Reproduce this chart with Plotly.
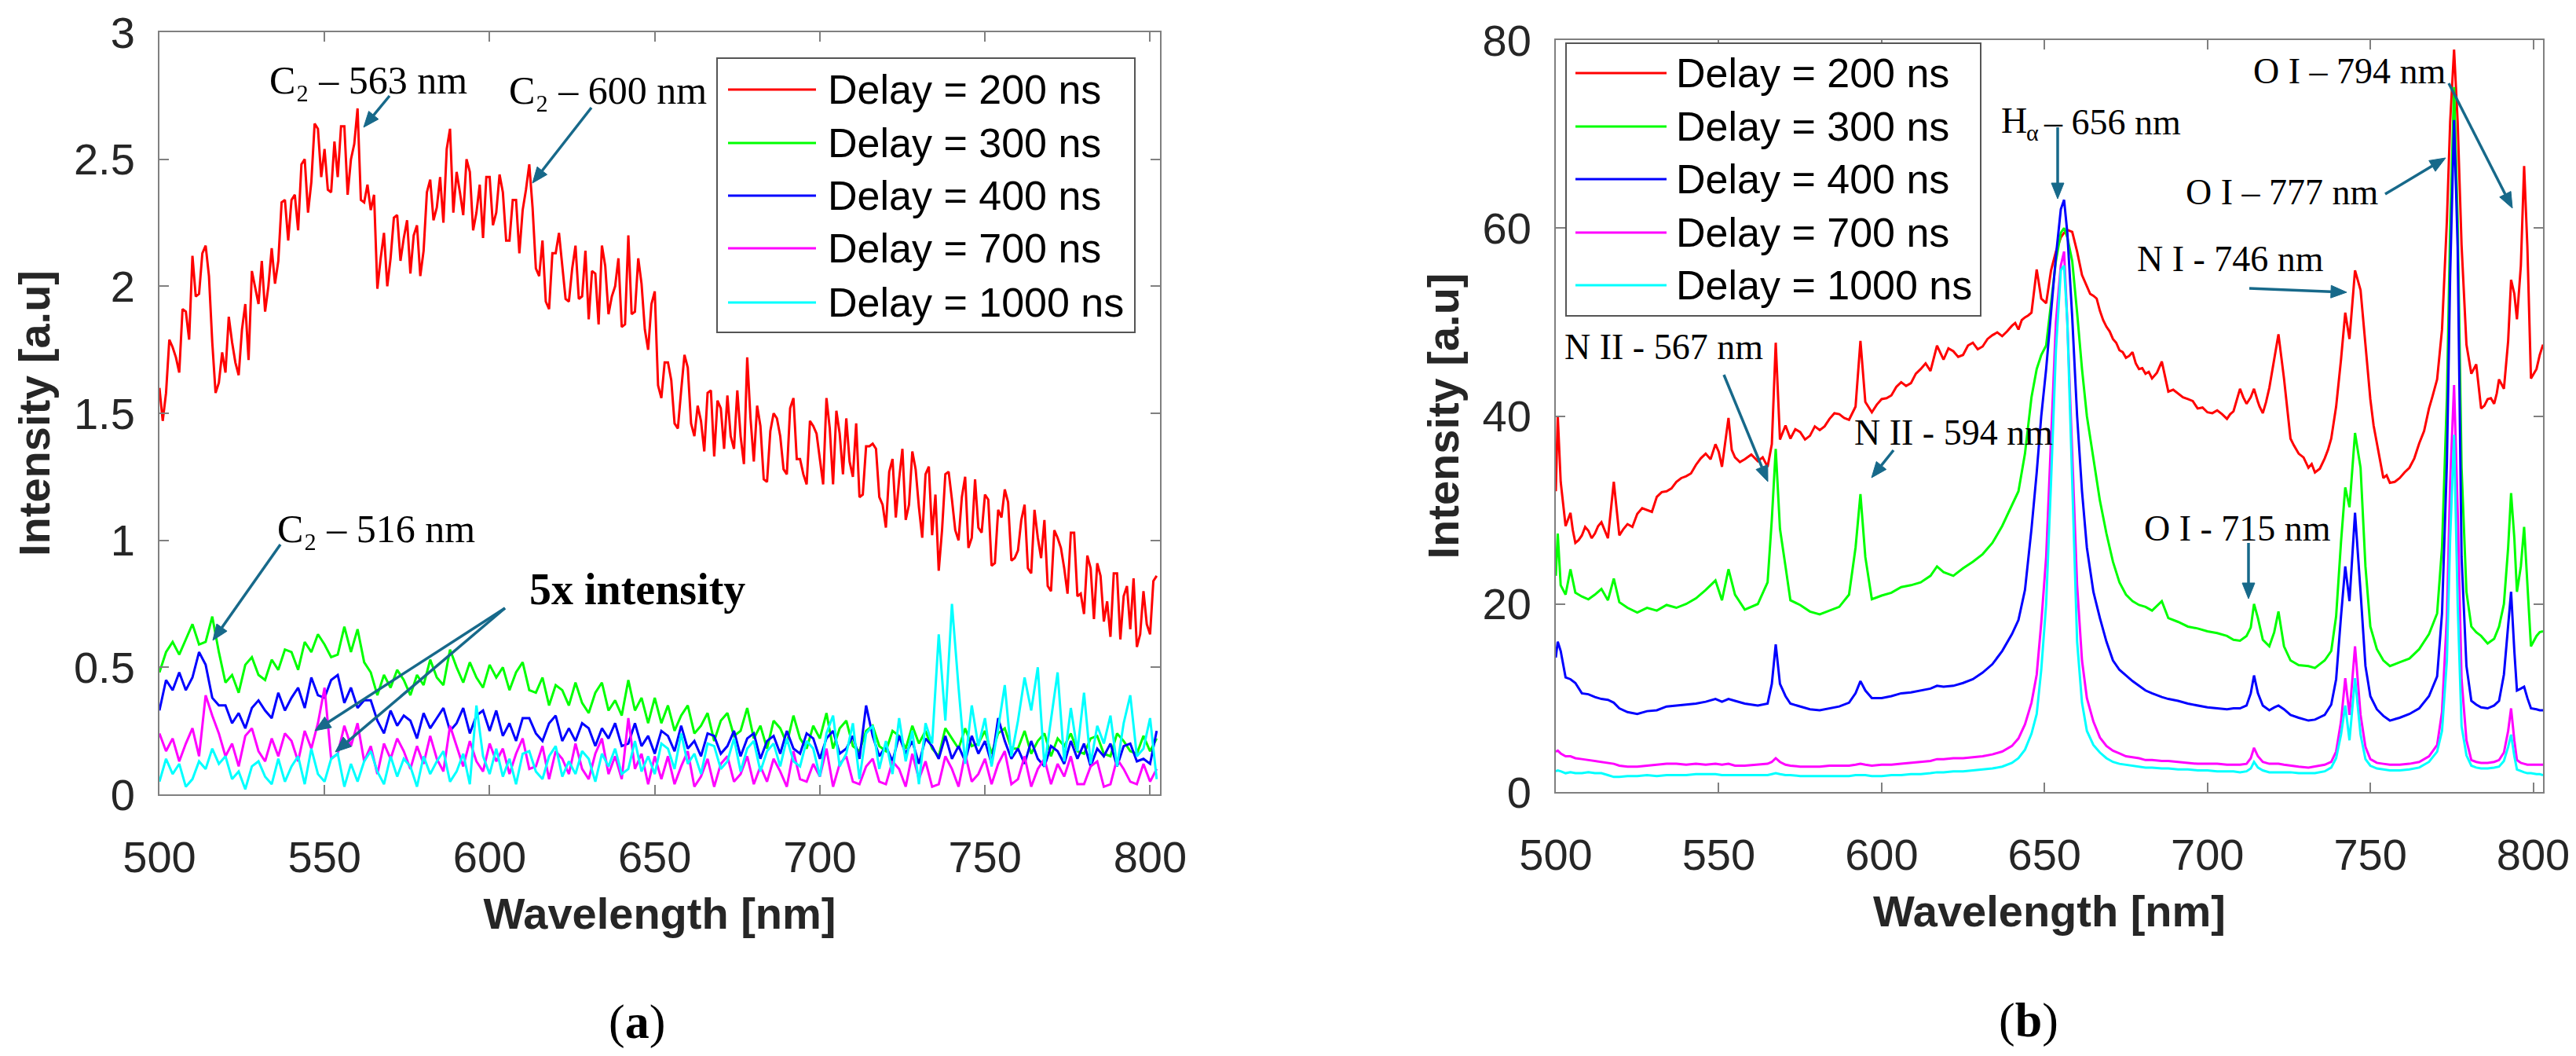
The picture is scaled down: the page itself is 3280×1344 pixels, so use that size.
import plotly.graph_objects as go

W, H = 3280, 1344

labels = ["Delay = 200 ns", "Delay = 300 ns", "Delay = 400 ns", "Delay = 700 ns", "Delay = 1000 ns"]
colors = ["#ff0000", "#00ff00", "#0000ff", "#ff00ff", "#00ffff"]

# ---- panel (a): spectra sampled every 2 nm (the 200 ns one also at the odd nm) ----
wl_a = list(range(500, 804, 2))
wl_a_mid = list(range(501, 803, 2))

a_200 = [1.60, 1.58, 1.76, 1.66, 1.90, 2.12, 1.97, 2.16, 1.78, 1.62,
         1.66, 1.78, 1.65, 1.93, 2.06, 1.93, 1.90, 2.15, 2.10, 2.34,
         2.34, 2.22, 2.50, 2.41, 2.62, 2.54, 2.37, 2.43, 2.63, 2.50,
         2.70, 2.33, 2.30, 1.99, 2.21, 2.11, 2.28, 2.19, 2.05, 2.24,
         2.14, 2.42, 2.31, 2.25, 2.62, 2.45, 2.28, 2.45, 2.29, 2.19,
         2.43, 2.29, 2.37, 2.18, 2.34, 2.30, 2.48, 2.07, 2.18, 1.91,
         2.13, 2.07, 1.94, 2.16, 1.96, 1.87, 2.05, 2.16, 1.89, 2.00,
         1.84, 2.20, 1.90, 2.01, 1.75, 1.98, 1.56, 1.70, 1.46, 1.59,
         1.68, 1.41, 1.47, 1.58, 1.33, 1.52, 1.57, 1.36, 1.41, 1.72,
         1.31, 1.45, 1.23, 1.50, 1.41, 1.26, 1.56, 1.32, 1.22, 1.45,
         1.32, 1.56, 1.22, 1.42, 1.48, 1.25, 1.17, 1.37, 1.38, 1.17,
         1.05, 1.32, 1.24, 1.08, 1.35, 1.13, 1.26, 1.02, 0.88, 1.26,
         1.16, 1.00, 1.25, 1.01, 1.05, 1.18, 0.90, 1.12, 1.20, 0.92,
         0.96, 1.14, 0.87, 1.01, 1.08, 0.80, 1.01, 0.89, 1.03, 0.78,
         0.71, 0.89, 0.91, 0.68, 0.62, 0.87, 0.78, 0.65, 0.58, 0.80,
         0.63, 0.86]

a_200_mid = [1.47, 1.79, 1.72, 1.91, 1.79, 1.96, 2.13, 2.04, 1.58, 1.74,
             1.88, 1.70, 1.83, 1.71, 1.99, 2.10, 2.00, 2.01, 2.33, 2.18,
             2.36, 2.48, 2.29, 2.64, 2.43, 2.38, 2.57, 2.63, 2.36, 2.56,
             2.34, 2.40, 2.36, 2.11, 2.00, 2.27, 2.10, 2.26, 2.20, 2.04,
             2.37, 2.26, 2.43, 2.54, 2.29, 2.37, 2.50, 2.22, 2.40, 2.43,
             2.24, 2.44, 2.18, 2.34, 2.13, 2.38, 2.31, 2.04, 1.94, 2.13,
             2.21, 1.95, 2.07, 1.95, 2.14, 2.06, 1.85, 2.08, 1.96, 2.11,
             1.85, 1.89, 2.11, 1.83, 1.93, 1.61, 1.70, 1.63, 1.44, 1.73,
             1.46, 1.53, 1.35, 1.59, 1.55, 1.36, 1.41, 1.59, 1.30, 1.48,
             1.53, 1.24, 1.43, 1.48, 1.28, 1.52, 1.32, 1.26, 1.47, 1.42,
             1.22, 1.44, 1.51, 1.26, 1.31, 1.46, 1.18, 1.37, 1.36, 1.14,
             1.27, 1.09, 1.36, 1.14, 1.28, 1.01, 1.29, 1.18, 1.04, 1.27,
             1.04, 1.17, 0.97, 1.24, 1.03, 1.16, 0.91, 1.09, 1.15, 0.93,
             1.08, 0.89, 1.12, 0.93, 0.82, 1.04, 0.97, 0.79, 1.03, 0.79,
             0.94, 0.69, 0.86, 0.76, 0.87, 0.61, 0.82, 0.85, 0.63, 0.67,
             0.84]

a_300 = [0.48, 0.56, 0.60, 0.55, 0.61, 0.67, 0.59, 0.60, 0.70, 0.56,
         0.44, 0.47, 0.40, 0.51, 0.54, 0.47, 0.45, 0.53, 0.49, 0.57,
         0.56, 0.49, 0.60, 0.56, 0.63, 0.59, 0.54, 0.55, 0.66, 0.56,
         0.65, 0.52, 0.48, 0.39, 0.47, 0.42, 0.49, 0.45, 0.39, 0.47,
         0.43, 0.53, 0.46, 0.43, 0.57, 0.50, 0.44, 0.52, 0.46, 0.42,
         0.51, 0.46, 0.50, 0.41, 0.48, 0.52, 0.41, 0.40, 0.46, 0.35,
         0.43, 0.41, 0.35, 0.44, 0.36, 0.32, 0.40, 0.44, 0.33, 0.37,
         0.31, 0.45, 0.33, 0.38, 0.28, 0.38, 0.28, 0.35, 0.25, 0.31,
         0.35, 0.24, 0.27, 0.32, 0.21, 0.29, 0.32, 0.23, 0.25, 0.34,
         0.22, 0.27, 0.18, 0.29, 0.26, 0.20, 0.31, 0.22, 0.18, 0.27,
         0.22, 0.32, 0.18, 0.26, 0.29, 0.19, 0.17, 0.25, 0.27, 0.19,
         0.17, 0.25, 0.23, 0.18, 0.27, 0.20, 0.25, 0.18, 0.15, 0.26,
         0.22, 0.18, 0.26, 0.19, 0.20, 0.25, 0.16, 0.24, 0.26, 0.18,
         0.18, 0.25, 0.16, 0.21, 0.24, 0.15, 0.22, 0.19, 0.24, 0.17,
         0.16, 0.22, 0.23, 0.16, 0.15, 0.24, 0.21, 0.17, 0.16, 0.23,
         0.17, 0.22]

a_400 = [0.33, 0.45, 0.41, 0.48, 0.41, 0.46, 0.56, 0.51, 0.38, 0.35,
         0.35, 0.28, 0.32, 0.26, 0.34, 0.37, 0.33, 0.30, 0.40, 0.33,
         0.38, 0.42, 0.34, 0.46, 0.39, 0.38, 0.45, 0.47, 0.36, 0.42,
         0.34, 0.37, 0.37, 0.29, 0.24, 0.33, 0.27, 0.31, 0.29, 0.22,
         0.32, 0.26, 0.30, 0.34, 0.25, 0.28, 0.34, 0.24, 0.31, 0.33,
         0.25, 0.33, 0.23, 0.28, 0.21, 0.30, 0.30, 0.24, 0.21, 0.28,
         0.31, 0.21, 0.26, 0.21, 0.28, 0.26, 0.19, 0.26, 0.22, 0.28,
         0.19, 0.20, 0.28, 0.19, 0.23, 0.16, 0.25, 0.23, 0.17, 0.27,
         0.18, 0.21, 0.15, 0.24, 0.23, 0.16, 0.19, 0.25, 0.15, 0.22,
         0.24, 0.14, 0.21, 0.23, 0.16, 0.25, 0.18, 0.16, 0.24, 0.22,
         0.14, 0.22, 0.25, 0.16, 0.18, 0.23, 0.14, 0.35, 0.23, 0.15,
         0.19, 0.13, 0.23, 0.16, 0.21, 0.12, 0.22, 0.19, 0.14, 0.23,
         0.14, 0.19, 0.13, 0.23, 0.16, 0.21, 0.12, 0.30, 0.21, 0.14,
         0.18, 0.12, 0.21, 0.14, 0.11, 0.19, 0.17, 0.12, 0.21, 0.14,
         0.20, 0.11, 0.18, 0.15, 0.20, 0.11, 0.19, 0.20, 0.13, 0.14,
         0.12, 0.25]

a_700 = [0.24, 0.17, 0.22, 0.13, 0.20, 0.26, 0.15, 0.39, 0.31, 0.24,
         0.15, 0.20, 0.11, 0.23, 0.26, 0.17, 0.13, 0.22, 0.15, 0.24,
         0.21, 0.13, 0.25, 0.18, 0.28, 0.42, 0.14, 0.16, 0.27, 0.19,
         0.28, 0.13, 0.19, 0.08, 0.20, 0.14, 0.22, 0.17, 0.10, 0.19,
         0.12, 0.23, 0.14, 0.09, 0.27, 0.19, 0.11, 0.21, 0.13, 0.09,
         0.20, 0.13, 0.18, 0.08, 0.16, 0.22, 0.10, 0.11, 0.19, 0.06,
         0.17, 0.14, 0.08, 0.20, 0.10, 0.06, 0.16, 0.22, 0.08, 0.15,
         0.06, 0.30, 0.10, 0.16, 0.04, 0.15, 0.06, 0.15, 0.04, 0.11,
         0.17, 0.03, 0.07, 0.14, 0.03, 0.12, 0.15, 0.05, 0.08, 0.15,
         0.04, 0.11, 0.05, 0.14, 0.09, 0.03, 0.17, 0.06, 0.05, 0.12,
         0.07, 0.18, 0.03, 0.12, 0.15, 0.05, 0.04, 0.11, 0.14, 0.05,
         0.04, 0.13, 0.10, 0.03, 0.16, 0.06, 0.13, 0.03, 0.04, 0.15,
         0.10, 0.03, 0.16, 0.05, 0.08, 0.14, 0.04, 0.12, 0.17, 0.04,
         0.06, 0.15, 0.03, 0.10, 0.14, 0.04, 0.12, 0.07, 0.15, 0.04,
         0.04, 0.11, 0.13, 0.03, 0.04, 0.14, 0.10, 0.05, 0.04, 0.12,
         0.05, 0.10]

a_1000 = [0.05, 0.14, 0.08, 0.12, 0.03, 0.06, 0.13, 0.10, 0.18, 0.12,
          0.15, 0.06, 0.09, 0.02, 0.11, 0.13, 0.07, 0.04, 0.14, 0.05,
          0.11, 0.15, 0.04, 0.18, 0.08, 0.05, 0.14, 0.16, 0.03, 0.12,
          0.05, 0.13, 0.17, 0.09, 0.04, 0.15, 0.07, 0.14, 0.11, 0.03,
          0.15, 0.08, 0.13, 0.17, 0.05, 0.09, 0.16, 0.04, 0.35, 0.15,
          0.08, 0.18, 0.07, 0.14, 0.04, 0.16, 0.17, 0.09, 0.06, 0.15,
          0.19, 0.07, 0.13, 0.08, 0.17, 0.14, 0.05, 0.16, 0.11, 0.18,
          0.08, 0.10, 0.21, 0.09, 0.15, 0.08, 0.20, 0.18, 0.10, 0.24,
          0.12, 0.16, 0.08, 0.20, 0.19, 0.10, 0.13, 0.22, 0.09, 0.18,
          0.21, 0.09, 0.17, 0.20, 0.11, 0.22, 0.13, 0.11, 0.21, 0.18,
          0.07, 0.24, 0.31, 0.11, 0.16, 0.28, 0.06, 0.24, 0.27, 0.10,
          0.21, 0.08, 0.30, 0.13, 0.25, 0.04, 0.28, 0.20, 0.63, 0.29,
          0.75, 0.42, 0.12, 0.35, 0.19, 0.30, 0.11, 0.26, 0.43, 0.15,
          0.29, 0.46, 0.33, 0.50, 0.11, 0.30, 0.48, 0.13, 0.34, 0.17,
          0.40, 0.12, 0.27, 0.20, 0.31, 0.11, 0.28, 0.39, 0.15, 0.18,
          0.30, 0.06]

# ---- panel (b): spectra, denser sampling around the lines ----
wl_b = [500, 500.6, 501.5, 503, 504.5, 506, 508, 510, 512, 514,
        516, 517.8, 519.5, 522, 525, 528, 531, 534, 537, 540,
        543, 546, 549, 551, 553, 555, 558, 562, 565, 566.3,
        567.5, 568.8, 570.5, 572, 575, 578, 581, 584, 587, 590,
        592, 593.5, 595, 597, 600, 603, 606, 609, 612, 615,
        617, 619, 622, 625, 628, 631, 634, 637, 640, 642,
        644, 646, 647.6, 649, 650.5, 652, 653.5, 655, 656, 657,
        658.5, 660, 661.5, 663, 665, 667, 669, 671, 673, 675,
        677, 679, 681, 683, 686, 688, 691, 694, 697, 700,
        703, 706, 708, 710, 712, 713.3, 714.3, 715.5, 717, 719,
        720.5, 721.8, 723.5, 725.5, 728, 731, 733, 736, 738, 739.5,
        741, 742.3, 743.6, 745.3, 747, 748.5, 750, 752, 754, 756,
        759, 762, 765, 768, 770.5, 772, 773.5, 774.5, 775.7, 776.8,
        778, 779.5, 781, 782.5, 784, 786, 788, 789.5, 791, 792.3,
        793.2, 794.2, 795, 796.2, 797.2, 798.2, 799.3, 801, 802, 803]

b_200 = [32, 40, 33, 28.3, 29.7, 26.5, 27.3, 27.8, 27.5, 28.7,
         27, 33, 27.3, 28.5, 29.6, 30, 31.4, 32, 33, 33.6,
         34.8, 36, 37, 34.6, 39.8, 35.6, 35.4, 35.2, 34.6, 37,
         47.8, 37.5, 39, 37.6, 38.3, 37.9, 38.5, 39.7, 40.2, 39.6,
         41, 48, 41.5, 40.4, 41.8, 42.2, 43.6, 43.5, 45, 44.8,
         47.5, 46.0, 46.9, 46.5, 47.8, 47.4, 48.6, 48.5, 49.6, 49.2,
         50.5, 51, 55.6, 52.5, 52, 55.5, 57.5, 59, 59.5, 59.8,
         59.6, 57.5, 55, 53.8, 52.8, 51.2, 49.5, 48.2, 47, 46.2,
         46.8, 45, 44.5, 44, 45.8, 42.6, 42.4, 41.8, 40.8, 40.4,
         40.6, 39.7, 40.5, 42.9, 41.3, 42, 42.9, 41.5, 40.3, 43,
         46, 48.7, 44, 37.6, 36, 34.5, 34, 35.5, 37.6, 41,
         46, 51, 48.2, 55.5, 53.4, 47.6, 41.8, 37.1, 33.4, 32.9,
         33.4, 34.5, 37.1, 40.8, 43.9, 49.2, 60.8, 71.3, 79, 71.3,
         58.2, 47.6, 44.5, 45.5, 40.8, 41.8, 41.3, 43.9, 42.9, 48,
         54.5, 53, 50.3, 56, 66.6, 58, 44, 45, 46.5, 47.6]

# extra readings of the (noisier) 200 ns curve between the grid points above
wl_b_mid = [505.2, 507, 509, 511, 513, 515, 520.8, 523.5, 526.5, 529.5,
            532.5, 535.5, 538.5, 541.5, 544.5, 547.5, 550, 554, 556.5, 560,
            563.5, 573.5, 576.5, 579.5, 582.5, 585.5, 588.5, 598.5, 601.5, 604.5,
            607.5, 610.5, 613.5, 620.5, 623.5, 626.5, 629.5, 632.5, 635.5, 638.5,
            641, 643, 645, 664, 666, 668, 670, 672, 674, 676,
            678, 680, 682, 684.5, 689.5, 692.5, 695.5, 698.5, 701.5, 704.5,
            707, 709, 711, 716, 718, 726.5, 729.5, 732, 734.5, 737,
            751, 753, 755, 757.5, 760.5, 763.5, 766.5, 769, 783.3, 785,
            787, 788.8]
b_200_mid = [27.9, 26.8, 28.2, 27.0, 28.3, 27.9, 28.0, 28.2, 30.2, 29.8,
             31.9, 32.3, 33.4, 33.9, 35.5, 35.4, 36.2, 36.4, 35.1, 35.9,
             35.6, 38.6, 37.5, 38.9, 38.9, 40.3, 39.8, 41.2, 41.9, 43.1,
             43.2, 44.5, 45.6, 47.2, 46.3, 47.5, 47.1, 48.2, 48.9, 49.0,
             49.9, 50.2, 50.7, 53.0, 52.5, 50.2, 49.0, 47.8, 46.8, 46.4,
             45.6, 45.1, 44.7, 44.6, 42.8, 42.0, 41.6, 40.9, 40.3, 40.2,
             40.2, 41.8, 42.0, 41.0, 41.5, 36.9, 35.6, 34.9, 34.4, 36.4,
             39.0, 35.0, 33.7, 33.0, 34.0, 35.5, 38.4, 42.0, 43.0, 41.1,
             41.9, 42.4]

b_300 = [23, 27.5, 22, 21, 23.7, 21.2, 20.8, 20.5, 21, 21.6,
         20.4, 22.7, 20.2, 19.6, 19.1, 19.6, 19.3, 19.9, 19.6, 20,
         20.6, 21.5, 22.5, 20.4, 23.7, 21, 19.4, 20, 22.3, 29,
         36.5, 28, 24, 20.4, 19.9, 19.2, 18.9, 19.3, 19.7, 21,
         26, 31.7, 25, 20.5, 20.9, 21.2, 21.8, 22, 22.3, 23,
         24, 23.4, 23, 23.8, 24.5, 25.3, 26.5, 28.3, 30.5, 32,
         36, 42, 45, 46.5, 47.5, 52, 56.5, 59.5, 60, 59,
         56.5, 51, 45, 40, 35.5, 31, 27.5, 24.5, 22.3, 21,
         20.3, 19.9, 19.7, 19.3, 20.3, 18.5, 18.1, 17.6, 17.4, 17.1,
         16.9, 16.6, 16.2, 16.1, 16.6, 17.5, 20, 18.5, 16.2, 15.5,
         17, 19.2, 15.5, 14, 13.5, 13.4, 13.2, 14, 15, 18.7,
         26.6, 32.4, 30.3, 38.2, 34.5, 24, 17.6, 15.2, 14, 13.4,
         13.8, 14.2, 15.2, 16.8, 19, 26, 42, 60, 75, 60.8,
         34.5, 21.3, 17.6, 17, 16.6, 15.8, 16.3, 17.6, 20, 26,
         31.8, 27, 21.3, 24, 28.2, 22, 15.5, 16.6, 17, 17.1]

b_400 = [14.3, 16, 15, 12.2, 12, 11.6, 10.5, 10.4, 10.1, 9.9,
         9.8, 9.5, 8.9, 8.5, 8.3, 8.6, 8.7, 9.1, 9.2, 9.3,
         9.4, 9.6, 9.9, 9.6, 9.9, 9.7, 9.4, 9.2, 9.4, 11.5,
         15.7, 11.5, 10.2, 9.4, 9.1, 8.8, 8.7, 8.9, 9.1, 9.5,
         10.5, 11.8, 10.8, 10, 10, 10.2, 10.5, 10.6, 10.8, 11,
         11.3, 11.2, 11.3, 11.6, 12, 12.7, 13.6, 15, 16.8, 18.3,
         21.5, 28, 34, 40, 45, 51, 57, 62, 63, 59.5,
         50.5, 40, 32, 26, 21.3, 18.5, 16, 14, 13, 12.4,
         11.8, 11.3, 10.8, 10.5, 10.1, 9.9, 9.7, 9.4, 9.2, 9,
         8.9, 8.8, 8.9, 8.9, 9.2, 10.5, 12.4, 10.5, 9.2, 8.7,
         9, 9.2, 8.8, 8.2, 7.9, 7.6, 7.7, 8.2, 9.3, 12,
         18.7, 24, 20.3, 29.7, 21.3, 13.4, 10.2, 8.8, 8.1, 7.6,
         7.9, 8.3, 8.9, 10.2, 12.3, 19, 35, 55, 71.5, 58,
         25, 13.4, 9.7, 9.3, 9, 8.9, 9.2, 9.7, 12.5, 17.5,
         21.3, 15, 10.8, 11, 11.2, 10, 8.9, 8.8, 8.7, 8.7]

b_700 = [4.3, 4.4, 4.1, 3.8, 3.8, 3.6, 3.5, 3.4, 3.3, 3.2,
         3.1, 3.0, 2.8, 2.7, 2.7, 2.8, 2.9, 3.0, 3.0, 2.9,
         3.0, 2.9, 3.0, 2.9, 3.0, 2.8, 2.8, 2.9, 3.0, 3.2,
         3.6, 3.2, 2.9, 2.8, 2.7, 2.7, 2.7, 2.8, 2.8, 2.8,
         2.9, 3.0, 2.9, 2.8, 2.9, 2.9, 3.0, 3.1, 3.2, 3.3,
         3.5, 3.5, 3.6, 3.6, 3.7, 3.8, 4.0, 4.3, 4.9, 5.7,
         7.2, 9.5, 12.5, 18, 25, 38, 50, 56, 57.5, 50,
         36, 22, 14, 10, 7.5, 5.8, 4.9, 4.4, 4.1, 3.8,
         3.7, 3.6, 3.4, 3.4, 3.3, 3.3, 3.2, 3.1, 3.0, 3.0,
         3.0, 2.9, 2.9, 2.9, 3.0, 3.6, 4.7, 3.8, 3.2, 3.0,
         3.0, 3.0, 2.9, 2.8, 2.7, 2.6, 2.7, 2.9, 3.2, 4.3,
         7.5, 12.1, 8.2, 15.5, 8.2, 4.8, 3.5, 3.1, 3.0, 2.9,
         2.9, 3.0, 3.2, 3.8, 5, 8.5, 18.7, 33, 43.3, 30,
         12, 5.5, 3.4, 3.2, 3.1, 3.1, 3.2, 3.4, 4.2, 6.5,
         8.9, 5.5, 3.4, 3.1, 3.0, 2.9, 2.9, 2.9, 2.9, 2.9]

b_1000 = [2.2, 2.3, 2.2, 2.0, 2.1, 2.0, 2.0, 2.1, 2.0, 2.0,
          1.8, 1.6, 1.6, 1.7, 1.7, 1.8, 1.7, 1.8, 1.8, 1.8,
          1.9, 1.9, 1.9, 1.8, 1.8, 1.8, 1.8, 1.8, 1.8, 1.9,
          2.0, 1.9, 1.8, 1.8, 1.7, 1.7, 1.7, 1.7, 1.7, 1.7,
          1.8, 1.8, 1.8, 1.7, 1.7, 1.8, 1.8, 1.9, 1.9, 2.0,
          2.1, 2.1, 2.2, 2.2, 2.3, 2.4, 2.5, 2.7, 3.1, 3.6,
          4.5, 6.2, 8.3, 13, 20, 33, 47, 55.5, 56, 50,
          32, 16, 9.5, 6.5, 5, 4.2, 3.6, 3.2, 3.0, 2.9,
          2.8, 2.7, 2.6, 2.6, 2.5, 2.5, 2.4, 2.4, 2.3, 2.3,
          2.2, 2.2, 2.2, 2.1, 2.2, 2.5, 3.2, 2.6, 2.3, 2.1,
          2.1, 2.1, 2.1, 2.1, 2.0, 2.0, 2.0, 2.2, 2.6, 3.6,
          6.1, 9.2, 5.5, 12.1, 6.1, 3.5, 2.8, 2.5, 2.4, 2.3,
          2.3, 2.4, 2.6, 3.2, 4.3, 6.5, 14, 27, 38, 20,
          7, 3.9, 2.8, 2.6, 2.5, 2.5, 2.6, 2.7, 3.3, 4.8,
          6.1, 3.8, 2.4, 2.2, 2.1, 2.0, 2.0, 1.9, 1.9, 1.8]


def merged(xa, ya, xb, yb):
    pts = sorted(zip(xa + xb, ya + yb))
    return [p[0] for p in pts], [p[1] for p in pts]


series_a = [merged(wl_a, a_200, wl_a_mid, a_200_mid),
            (wl_a, a_300), (wl_a, a_400), (wl_a, a_700), (wl_a, a_1000)]
series_b = [merged(wl_b, b_200, wl_b_mid, b_200_mid),
            (wl_b, b_300), (wl_b, b_400), (wl_b, b_700), (wl_b, b_1000)]

ARROW = "#17698a"
SANS = "Liberation Sans, Arial, sans-serif"
SERIF = "Liberation Serif, Times New Roman, serif"


def px(x):
    return x / W


def py(y):
    return 1 - y / H


fig = go.Figure()
for name, col, (xs, ys) in zip(labels, colors, series_a):
    fig.add_trace(go.Scatter(x=xs, y=ys, mode="lines", name=name,
                             line=dict(color=col, width=3), xaxis="x", yaxis="y",
                             showlegend=False))
for name, col, (xs, ys) in zip(labels, colors, series_b):
    fig.add_trace(go.Scatter(x=xs, y=ys, mode="lines", name=name,
                             line=dict(color=col, width=3), xaxis="x2", yaxis="y2",
                             showlegend=False))

axis_style = dict(showline=True, linecolor="#808080", linewidth=2, mirror="ticks",
                  ticks="inside", ticklen=12, tickwidth=2, tickcolor="#808080",
                  showgrid=False, zeroline=False, automargin=False,
                  tickfont=dict(family=SANS, size=56, color="#262626"))
title_font = dict(family=SANS, size=56, color="#262626")

fig.update_layout(
    width=W, height=H, margin=dict(l=0, r=0, t=0, b=0),
    paper_bgcolor="white", plot_bgcolor="white", showlegend=False,
    xaxis=dict(axis_style, domain=[px(195), px(1469)], range=[500, 803], anchor="y",
               tickvals=[500, 550, 600, 650, 700, 750, 800], ticklabelstandoff=30,
               title=dict(text="<b>Wavelength [nm]</b>", font=title_font, standoff=22)),
    yaxis=dict(axis_style, domain=[py(1003), py(33)], range=[0, 3], anchor="x",
               tickvals=[0, 0.5, 1, 1.5, 2, 2.5, 3], ticklabelstandoff=18,
               title=dict(text="<b>Intensity [a.u]</b>", font=title_font, standoff=12)),
    xaxis2=dict(axis_style, domain=[px(1973), px(3230)], range=[500, 803], anchor="y2",
                tickvals=[500, 550, 600, 650, 700, 750, 800], ticklabelstandoff=30,
                title=dict(text="<b>Wavelength [nm]</b>", font=title_font, standoff=22)),
    yaxis2=dict(axis_style, domain=[py(1000), py(43)], range=[0, 80], anchor="x2",
                tickvals=[0, 20, 40, 60, 80], ticklabelstandoff=18,
                title=dict(text="<b>Intensity [a.u]</b>", font=title_font, standoff=12)),
)

shapes = []
annotations = []

# hand-drawn legends (long line samples like the original)
legend_boxes = [
    dict(box=(905, 66, 1437, 415), rows=[106, 174, 241, 308, 377], line=(919, 1031), text_x=1045),
    dict(box=(1986, 47, 2514, 394), rows=[85, 153, 220, 288, 355], line=(1998, 2114), text_x=2125),
]
for lg in legend_boxes:
    x0, y0, x1, y1 = lg["box"]
    shapes.append(dict(type="rect", xref="paper", yref="paper",
                       x0=px(x0), x1=px(x1), y0=py(y1), y1=py(y0),
                       line=dict(color="#555555", width=2), fillcolor="white", layer="above"))
    for name, col, ry in zip(labels, colors, lg["rows"]):
        shapes.append(dict(type="line", xref="paper", yref="paper",
                           x0=px(lg["line"][0]), x1=px(lg["line"][1]), y0=py(ry), y1=py(ry),
                           line=dict(color=col, width=3), layer="above"))
        annotations.append(dict(xref="paper", yref="paper", x=px(lg["text_x"]), y=py(ry),
                                xanchor="left", yanchor="middle", showarrow=False, text=name,
                                borderpad=0, font=dict(family=SANS, size=52, color="black")))


def label(x, y, text, size=46, bold=False, anchor="center"):
    if bold:
        text = "<b>" + text + "</b>"
    annotations.append(dict(xref="paper", yref="paper", x=px(x), y=py(y), text=text,
                            xanchor=anchor, yanchor="middle", showarrow=False,
                            font=dict(family=SERIF, size=size, color="black")))


def arrow(x0, y0, x1, y1, head=20, half=8):
    # tail (x0, y0) -> tip (x1, y1), in page pixels
    dx, dy = x1 - x0, y1 - y0
    n = (dx * dx + dy * dy) ** 0.5
    ux, uy = dx / n, dy / n
    bx, by = x1 - ux * head, y1 - uy * head
    shapes.append(dict(type="line", xref="paper", yref="paper",
                       x0=px(x0), y0=py(y0), x1=px(bx), y1=py(by),
                       line=dict(color=ARROW, width=3.5), layer="above"))
    path = "M {:.5f},{:.5f} L {:.5f},{:.5f} L {:.5f},{:.5f} Z".format(
        px(x1), py(y1), px(bx - uy * half), py(by + ux * half), px(bx + uy * half), py(by - ux * half))
    shapes.append(dict(type="path", xref="paper", yref="paper", path=path,
                       line=dict(color=ARROW, width=1), fillcolor=ARROW, layer="above"))


# panel (a) labels
label(461, 94, "C₂ – 563 nm", size=50)
arrow(488, 114, 455, 154)
label(766, 107, "C₂ – 600 nm", size=50)
arrow(745, 129, 670, 225)
label(471, 665, "C₂ – 516 nm", size=50)
arrow(349, 685, 263, 807)
label(803, 742, "5x intensity", size=56, bold=True)
arrow(635, 766, 393, 922)
arrow(635, 766, 419, 949)

# panel (b) labels
label(2110, 433, "N II - 567 nm")
arrow(2187, 469, 2243, 605)
label(2479, 542, "N II - 594 nm")
arrow(2403, 565, 2375, 600)
label(2538, 145, "H", anchor="left")
label(2570, 160, "α", size=30, anchor="left")
label(2592, 147, "– 656 nm", anchor="left")
arrow(2612, 154, 2612, 245)
label(2984, 83, "O I – 794 nm")
arrow(3110, 98, 3191, 257)
label(2898, 237, "O I – 777 nm")
arrow(3029, 239, 3106, 193)
label(2832, 321, "N I - 746 nm")
arrow(2856, 359, 2980, 364)
label(2841, 664, "O I - 715 nm")
arrow(2855, 683, 2855, 754)

# sub-figure captions
label(803, 1292, "(<b>a</b>)", size=62)
label(2575, 1290, "(<b>b</b>)", size=62)

fig.update_layout(shapes=shapes, annotations=annotations)
fig.write_html("out.html")
